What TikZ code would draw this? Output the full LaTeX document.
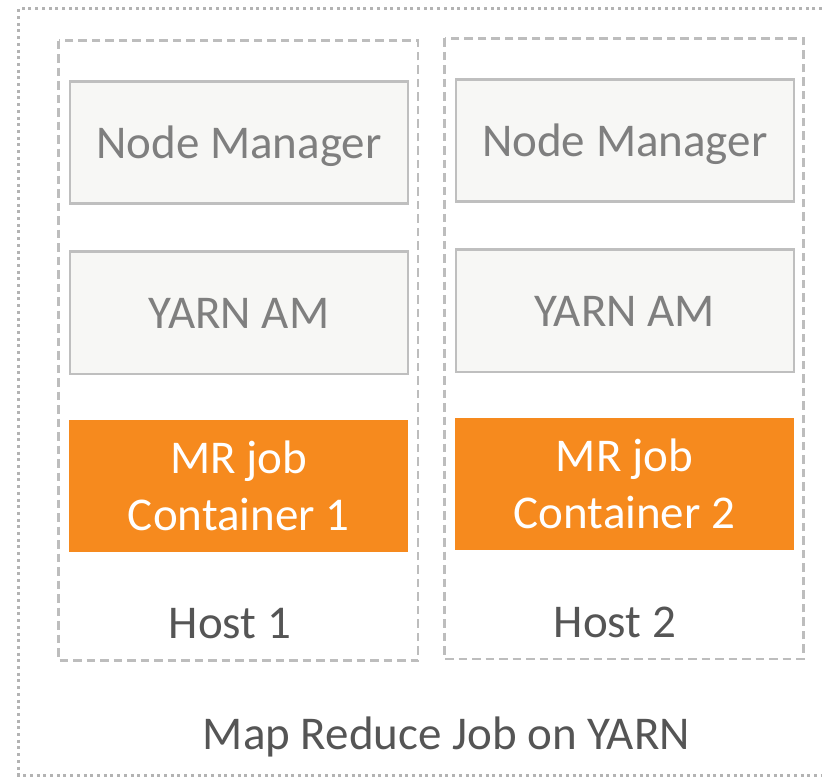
\documentclass[tikz,border=0pt]{standalone}
\usepackage{fontspec}
\setmainfont{Carlito}
\definecolor{boxline}{HTML}{BFBFBF}
\definecolor{boxfill}{HTML}{F7F7F5}
\definecolor{boxtext}{HTML}{7F7F7F}
\definecolor{mrorange}{HTML}{F68A1E}
\definecolor{labeltext}{HTML}{555555}
\definecolor{hostline}{HTML}{BDBDBD}
\definecolor{frameline}{HTML}{B3B3B3}
\begin{document}
\begin{tikzpicture}[x=1pt,y=-1pt,
  svcbox/.style={draw=boxline, line width=2.6pt, fill=boxfill, text=boxtext,
    minimum width=338pt, minimum height=122pt, inner sep=0pt,
    text height=32pt, text depth=0pt,
    font=\fontsize{47}{57}\selectfont},
  jobbox/.style={fill=mrorange, text=white, align=center,
    minimum width=339pt, minimum height=132pt, inner sep=0pt,
    font=\fontsize{47}{57}\selectfont},
  hostlabel/.style={text=labeltext, inner sep=0pt, font=\fontsize{47}{57}\selectfont},
  hostframe/.style={draw=hostline, line width=2.6pt, dash pattern=on 8.5pt off 5pt},
  jobframe/.style={draw=frameline, line width=2.8pt, dash pattern=on 3pt off 3.7pt}]
\useasboundingbox (0,0) rectangle (822,778);

% outer frame of the whole job (its right edge lies beyond the page)
\draw[jobframe] (822,8.7) -- (18.7,8.7) -- (18.7,775.3) -- (822,775.3);

% host frames
\draw[hostframe] (58.7,40.7) rectangle (418,660.7);
\draw[hostframe] (444.7,38.5) rectangle (803.5,659);

% host 1
\node[svcbox] (nm1) at (239,142.5) {Node Manager};
\node[svcbox] (am1) at (239,312.8) {YARN AM};
\node[jobbox] (mr1) at (238.7,485.8) {MR job\\Container 1};
\node[hostlabel] (h1) at (230,624) {Host 1};

% host 2
\node[svcbox] (nm2) at (624.8,140.5) {Node Manager};
\node[svcbox] (am2) at (624.8,310.8) {YARN AM};
\node[jobbox] (mr2) at (624.5,483.8) {MR job\\Container 2};
\node[hostlabel] (h2) at (615,622) {Host 2};

% caption
\node[hostlabel] (title) at (446.5,737) {Map Reduce Job on YARN};
\end{tikzpicture}
\end{document}
